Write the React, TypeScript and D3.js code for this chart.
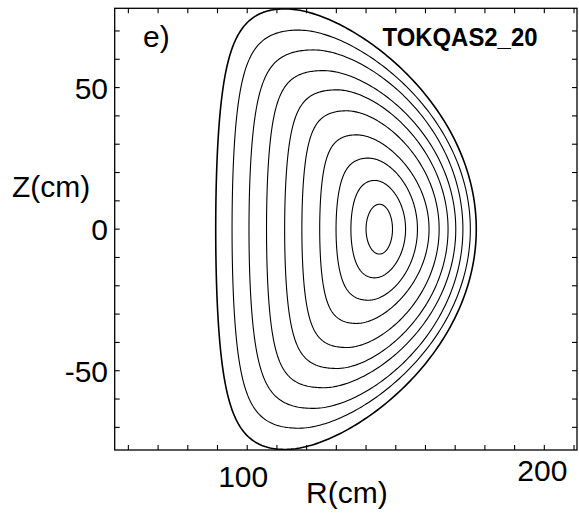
import React from "react";
import * as d3 from "d3";

// Flux surfaces, innermost first: midplane crossings, top point and corner squareness
const rInner = [140.0, 134.9, 129.9, 124.4, 118.4, 112.6, 106.5, 100.6, 94.9, 89.4];
const rOuter = [148.9, 153.3, 157.3, 161.2, 164.6, 167.6, 170.2, 172.6, 175.1, 177.1];
const rTop = [144.5, 142.9, 140.7, 136.8, 133.4, 130.1, 125.6, 122.2, 117.2, 112.7];
const zTop = [8.8, 17.2, 25.1, 33.3, 41.8, 49.2, 56.0, 63.3, 70.3, 77.8];
const squareIn = [0, 0.05, 0.1, 0.12, 0.14, 0.15, 0.15, 0.14, 0.12, 0.08];
const squareOut = [0, 0, 0.01, 0.01, 0.02, 0.02, 0.03, 0.03, 0.03, 0.03];

const rDomain = [55.4, 211];
const zDomain = [-78, 78];
const rTicks = d3.range(60, 211, 10);
const zTicks = d3.range(-70, 71, 10);
const rLabels = [100, 200];
const zLabels = [50, 0, -50];

const W = 579;
const H = 517;
const plot = { left: 114.7, right: 577, top: 8.3, bottom: 450 };

const FONT = "'Liberation Sans', Arial, Helvetica, sans-serif";

function surfacePoints(i: number): [number, number][] {
  const r0 = (rInner[i] + rOuter[i]) / 2;
  const a = (rOuter[i] - rInner[i]) / 2;
  const delta = Math.max(-0.99, Math.min(0.99, (r0 - rTop[i]) / a));
  const kappa = zTop[i] / a;
  const tri = Math.asin(delta);
  return d3.range(0, 360).map((k) => {
    const th = (k * 2 * Math.PI) / 360;
    const zeta = Math.cos(th) < 0 ? squareIn[i] : squareOut[i];
    const r = r0 + a * Math.cos(th + tri * Math.sin(th));
    const z = kappa * a * Math.sin(th + zeta * Math.sin(2 * th));
    return [r, z];
  });
}

export default function App() {
  const x = d3.scaleLinear().domain(rDomain).range([plot.left, plot.right]);
  const y = d3.scaleLinear().domain(zDomain).range([plot.bottom, plot.top]);
  const line = d3
    .line<[number, number]>()
    .x((d) => x(d[0]))
    .y((d) => y(d[1]))
    .curve(d3.curveLinearClosed);

  const tickLen = 5;
  const labelSize = 30;

  return (
    <svg
      width={W}
      height={H}
      style={{ position: "absolute", left: 0, top: 0, background: "#fff" }}
      fontFamily={FONT}
    >
      <rect width={W} height={H} fill="#fff" />
      <defs>
        <clipPath id="plotArea">
          <rect
            x={plot.left}
            y={plot.top}
            width={plot.right - plot.left}
            height={plot.bottom - plot.top}
          />
        </clipPath>
      </defs>

      <g clipPath="url(#plotArea)" fill="none" stroke="#000">
        {rInner.map((_, i) => (
          <path
            key={i}
            d={line(surfacePoints(i)) || ""}
            strokeWidth={i === rInner.length - 1 ? 1.6 : 1.1}
          />
        ))}
      </g>

      {/* frame */}
      <rect
        x={plot.left}
        y={plot.top}
        width={plot.right - plot.left}
        height={plot.bottom - plot.top}
        fill="none"
        stroke="#000"
        strokeWidth={1.3}
      />

      {/* inward ticks on all four sides */}
      <g stroke="#000" strokeWidth={1.1}>
        {rTicks.map((t) => (
          <g key={"r" + t}>
            <line x1={x(t)} x2={x(t)} y1={plot.bottom} y2={plot.bottom - tickLen} />
            <line x1={x(t)} x2={x(t)} y1={plot.top} y2={plot.top + tickLen} />
          </g>
        ))}
        {zTicks.map((t) => (
          <g key={"z" + t}>
            <line x1={plot.left} x2={plot.left + tickLen} y1={y(t)} y2={y(t)} />
            <line x1={plot.right} x2={plot.right - tickLen} y1={y(t)} y2={y(t)} />
          </g>
        ))}
      </g>

      {/* tick labels */}
      <g fontSize={labelSize} fill="#000">
        {zLabels.map((t) => (
          <text key={"zl" + t} x={108} y={y(t) + 11} textAnchor="end">
            {t}
          </text>
        ))}
        {rLabels.map((t, i) => (
          <text
            key={"rl" + t}
            x={x(t) - (i === 0 ? 4 : 2)}
            y={i === 0 ? 487 : 481}
            textAnchor="middle"
          >
            {t}
          </text>
        ))}
      </g>

      {/* axis titles and annotations */}
      <text x={306} y={503} fontSize={labelSize}>
        R(cm)
      </text>
      <text x={12} y={197} fontSize={labelSize}>
        Z(cm)
      </text>
      <text x={143} y={47} fontSize={labelSize}>
        e)
      </text>
      <text
        x={382.5}
        y={45.7}
        fontSize={26}
        fontWeight="bold"
        textLength={155}
        lengthAdjust="spacingAndGlyphs"
      >
        TOKQAS2_20
      </text>
    </svg>
  );
}
